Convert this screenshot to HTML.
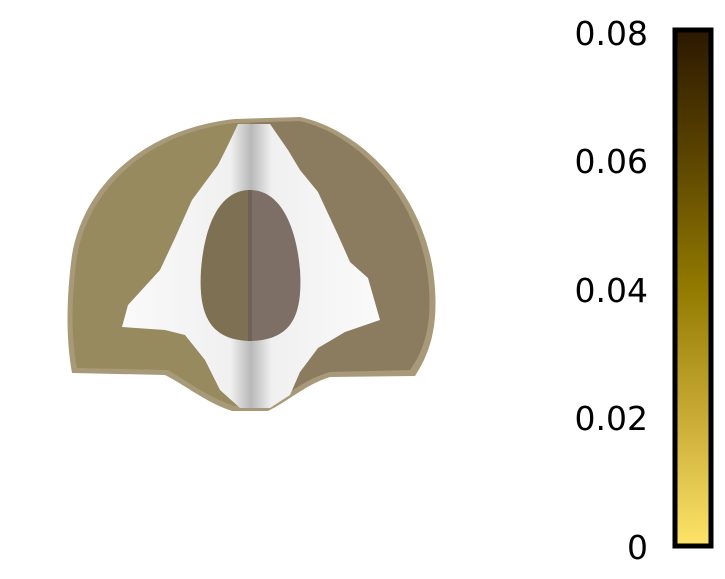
<!DOCTYPE html>
<html><head><meta charset="utf-8"><style>
body{margin:0;background:#fff;width:725px;height:575px;overflow:hidden;font-family:"DejaVu Sans","Liberation Sans",sans-serif}
</style></head><body>
<svg width="725" height="575">
<defs>
<linearGradient id="cb" x1="0" y1="1" x2="0" y2="0">
<stop offset="0" stop-color="#fde468"/><stop offset="0.25" stop-color="#c8ab35"/>
<stop offset="0.5" stop-color="#927a00"/><stop offset="0.75" stop-color="#5c4500"/>
<stop offset="1" stop-color="#2b1800"/></linearGradient>
<clipPath id="lh"><rect x="0" y="0" width="250" height="575"/></clipPath>
<clipPath id="rh"><rect x="250" y="0" width="300" height="575"/></clipPath>
<linearGradient id="wm" x1="0" y1="0" x2="1" y2="0">
<stop offset="0" stop-color="#fafafa"/><stop offset="0.42" stop-color="#f0f0f0"/><stop offset="0.5" stop-color="#b8b8b8"/><stop offset="0.58" stop-color="#f0f0f0"/><stop offset="1" stop-color="#fafafa"/></linearGradient>
</defs>
<g>
<path fill="#a89a78" d="M235,119 L300,117 C360,130 420,190 433,270 C440,320 432,350 415,376 L330,377 C305,385 290,400 268,411 L232,411 C205,402 185,385 165,375 L72,373 C66,340 66,300 72,255 C85,180 150,128 235,119 Z"/>
<g clip-path="url(#lh)"><path fill="#978a5e" d="M235,123 L300,121 C356,134 414,192 427,270 C434,318 426,348 410,370 L330,372 C303,380 288,395 266,406 L234,406 C208,397 188,382 168,370 L77,368 C71,338 71,300 77,256 C90,184 152,132 235,123 Z"/></g>
<g clip-path="url(#rh)"><path fill="#8c7c5f" d="M235,123 L300,121 C356,134 414,192 427,270 C434,318 426,348 410,370 L330,372 C303,380 288,395 266,406 L234,406 C208,397 188,382 168,370 L77,368 C71,338 71,300 77,256 C90,184 152,132 235,123 Z"/></g>
<polygon fill="url(#wm)" points="238,124 270,124 288,150 300,170 318,192 338,235 350,262 368,278 380,320 345,332 318,348 300,372 290,395 270,408 240,408 220,390 205,360 185,335 165,330 122,327 128,305 160,270 175,238 192,200 218,165 228,145"/>
<path fill="#7e7052" d="M250,190 C222,190 205,220 201,270 C198,318 212,340 250,341 Z"/>
<path fill="#7d6e66" d="M250,190 C280,190 296,225 300,270 C303,318 290,340 250,341 Z"/>
<rect x="248" y="190" width="4" height="151" fill="#6e6155"/>
</g>
<g>
<rect x="675" y="30" width="36" height="516" fill="url(#cb)" stroke="#000" stroke-width="5"/>
<g font-size="33" fill="#000" text-anchor="end">
<text x="648" y="45">0.08</text>
<text x="648" y="173">0.06</text>
<text x="648" y="302">0.04</text>
<text x="648" y="430">0.02</text>
<text x="648" y="559">0</text>
</g></g>
</svg>
</body></html>
